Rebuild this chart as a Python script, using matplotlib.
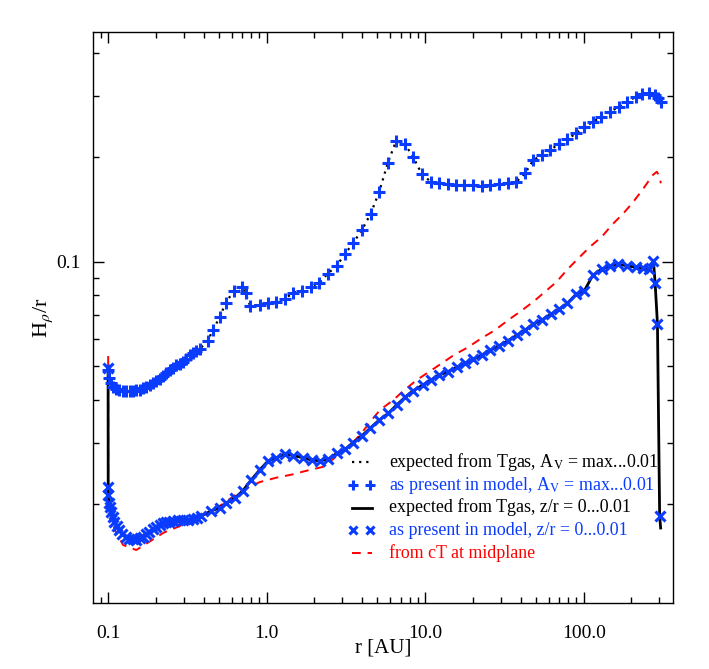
import matplotlib
matplotlib.use("Agg")
import matplotlib.pyplot as plt
from matplotlib.lines import Line2D
from matplotlib.ticker import LogLocator, FixedLocator, FixedFormatter, NullFormatter

plt.rcParams['font.family'] = ['Liberation Serif', 'DejaVu Serif']
plt.rcParams['mathtext.fontset'] = 'stix'

# ---- data: upper curve (A_V = max...0.01) ----
r_av = [0.1000, 0.1019, 0.1038, 0.1069, 0.1117, 0.1178, 0.1236, 0.1297, 0.1369, 0.1430,
        0.150, 0.1583, 0.1653, 0.1728, 0.1823, 0.1912, 0.2006, 0.2117, 0.2211, 0.2310,
        0.2438, 0.2557, 0.2684, 0.2831, 0.2958, 0.3090, 0.3262, 0.3420, 0.3573, 0.3771,
        0.4254, 0.4575, 0.5044, 0.5503, 0.618,
        0.700, 0.7359, 0.7866, 0.902, 1.018, 1.148, 1.297, 1.47, 1.675, 1.893,
        2.145, 2.424, 2.762, 3.116, 3.516, 3.99, 4.529, 5.131, 5.799, 6.54,
        7.42, 8.41, 9.545, 10.83, 12.22, 13.87, 15.65, 17.65, 20.13, 22.74,
        25.65, 29.24, 33.18, 37.43, 42.67, 48.14, 54.39, 61.37, 69.63, 78.9,
        89.5, 101.0, 114.6, 129.3, 146.8, 167.3, 188.8, 213.3, 234.8, 259.9,
        282.4, 296.3, 306.8]
h_av = [0.0487, 0.0461, 0.04467, 0.0436, 0.04292, 0.0426, 0.04250, 0.0424, 0.04235, 0.04250,
        0.0426, 0.04278, 0.0431, 0.04350, 0.0441, 0.04467, 0.0454, 0.04603, 0.0468, 0.04775,
        0.0487, 0.04935, 0.0502, 0.05085, 0.0515, 0.05256, 0.0538, 0.05470, 0.05525, 0.0559,
        0.0592, 0.0635, 0.0691, 0.0759, 0.0823,
        0.0847, 0.0810, 0.0746, 0.0750, 0.0759, 0.0767, 0.0780, 0.0814, 0.0825, 0.0847,
        0.0870, 0.0923, 0.0974, 0.1052, 0.1134, 0.1234, 0.1376, 0.1592, 0.1923, 0.2226,
        0.2190, 0.2001, 0.1787, 0.1702, 0.1690, 0.1679, 0.1664, 0.1664, 0.1664, 0.1657,
        0.1664, 0.1676, 0.1690, 0.1698, 0.1799, 0.1965, 0.2028, 0.2101, 0.2182, 0.2255,
        0.2347, 0.2442, 0.2534, 0.2620, 0.2709, 0.2800, 0.2894, 0.2992, 0.3046, 0.3073,
        0.3027, 0.2961, 0.2894]

# ---- data: lower curve (z/r = 0...0.01) ----
r_zr = [0.09985, 0.1000, 0.1003, 0.1019, 0.1031, 0.1043, 0.1069, 0.1096, 0.1133, 0.1178,
        0.1227, 0.1297, 0.1359, 0.143, 0.1504, 0.1576, 0.1653, 0.1735, 0.1818, 0.1912,
        0.2012, 0.2108, 0.2211, 0.2321, 0.2431, 0.2557, 0.2751, 0.2958, 0.3180, 0.342,
        0.3626, 0.386, 0.4464, 0.5044,
        0.5551, 0.627, 0.7075, 0.798, 0.902, 1.018, 1.148, 1.297, 1.47, 1.70,
        1.921, 2.168, 2.445, 2.762, 3.116, 3.516, 3.972, 4.482, 5.131, 5.848,
        6.607, 7.457, 8.41, 9.643, 10.83, 12.27, 13.87, 15.81, 17.84, 20.13,
        22.74, 25.65, 29.24, 33.18, 37.82, 42.67, 48.14, 54.39, 61.99, 69.94,
        78.9, 89.5, 101.0, 114.1, 130.1, 146.8, 165.6, 187.1, 213.3, 238.3,
        259.9, 275.4, 282.4, 292.0, 301.5, 305.9]
h_zr = [0.04926, 0.02239, 0.02123, 0.02009, 0.01954, 0.0190, 0.01834, 0.01778, 0.01727, 0.01682,
        0.01643, 0.01609, 0.01590, 0.01581, 0.01579, 0.01592, 0.01611, 0.01638, 0.01665, 0.0169,
        0.01716, 0.01739, 0.01757, 0.01771, 0.01780, 0.01789, 0.01795, 0.01798, 0.01802, 0.01806,
        0.01822, 0.01846, 0.01909, 0.01951,
        0.02009, 0.02077, 0.02184, 0.02346, 0.02506, 0.02661, 0.02719, 0.02787, 0.02760, 0.02719,
        0.02678, 0.02666, 0.02691, 0.02800, 0.02875, 0.03004, 0.03142, 0.03306, 0.03493, 0.03652,
        0.03860, 0.04063, 0.04244, 0.04408, 0.04557, 0.04710, 0.04815, 0.04958, 0.05092, 0.05229,
        0.05380, 0.05551, 0.05723, 0.05916, 0.06131, 0.06350, 0.06610, 0.06790, 0.07052, 0.07290,
        0.07586, 0.08053, 0.08249, 0.09137, 0.09526, 0.09719, 0.09829, 0.09738, 0.09634, 0.09572,
        0.09508, 0.1005, 0.08664, 0.0661, 0.01846, 0.01705]
n_zr_model = len(r_zr) - 1  # model points (last value only on expected line)

# ---- data: cT at midplane ----
r_ct = [0.1, 0.1, 0.1101, 0.1242, 0.1504, 0.1845, 0.2244, 0.2791, 0.3522, 0.4379,
        0.5291, 0.6208, 0.750, 0.906, 1.160, 1.443, 1.786, 2.274, 2.828, 3.353,
        3.877, 4.595, 5.184, 6.289, 7.275, 8.837, 10.46, 12.71, 15.42, 18.50,
        22.51, 27.59, 33.46, 39.68, 48.14, 57.05, 67.63, 78.2, 92.6, 109.7,
        130.1, 150.4, 178.1, 206.0, 236.1, 273.1, 289.4, 300.6, 306.8]
h_ct = [0.05343, 0.01973, 0.01682, 0.01523, 0.01473, 0.01563, 0.01654, 0.01722, 0.01809, 0.01903,
        0.02000, 0.02109, 0.02224, 0.02314, 0.02384, 0.02432, 0.02495, 0.02561, 0.02769, 0.02958,
        0.03162, 0.03493, 0.03733, 0.03990, 0.04236, 0.04557, 0.04796, 0.05092, 0.05405, 0.05654,
        0.06002, 0.06350, 0.06790, 0.07173, 0.07667, 0.08193, 0.08756, 0.09463, 0.1023, 0.1105,
        0.1180, 0.1276, 0.1379, 0.1490, 0.1618, 0.1779, 0.1818, 0.1759, 0.1684]

x_ticks = [0.1, 1.0, 10.0, 100.0]
x_ticklabels = ["0.1", "1.0", "10.0", "100.0"]
y_ticks = [0.1]
y_ticklabels = ["0.1"]

labels = ["expected from Tgas, A$_\\mathrm{V}$ = max...0.01",
          "as present in model, A$_\\mathrm{V}$ = max...0.01",
          "expected from Tgas, z/r = 0...0.01",
          "as present in model, z/r = 0...0.01",
          "from cT at midplane"]

BLUE = "#0a3cff"
RED = "#ff0000"

W, H = 709, 669
AX_L, AX_R, AX_T, AX_B = 93, 673, 32, 603

fig = plt.figure(figsize=(W / 100, H / 100), dpi=100)
ax = fig.add_axes([AX_L / W, 1 - AX_B / H, (AX_R - AX_L) / W, (AX_B - AX_T) / H])
ax.set_xscale('log')
ax.set_yscale('log')

ax.plot(r_ct, h_ct, color=RED, lw=1.4, dashes=(4.5, 3.5), zorder=2)
ax.plot(r_av, h_av, color='black', lw=1.6, dashes=(1.0, 2.2), zorder=3)
ax.plot(r_av, h_av, ls='none', marker='+', ms=8.5, mew=2.2, color=BLUE, zorder=4)
ax.plot(r_zr, h_zr, color='black', lw=2.0, zorder=3)
ax.plot(r_zr[:n_zr_model], h_zr[:n_zr_model], ls='none', marker='x', ms=6.5, mew=2.2,
        color=BLUE, zorder=4)

ax.set_xlim(0.0802, 366)
ax.set_ylim(0.01036, 0.46)

ax.xaxis.set_major_locator(FixedLocator(x_ticks))
ax.xaxis.set_major_formatter(FixedFormatter(x_ticklabels))
ax.xaxis.set_minor_locator(LogLocator(base=10, subs=range(2, 10)))
ax.xaxis.set_minor_formatter(NullFormatter())
ax.yaxis.set_major_locator(FixedLocator(y_ticks))
ax.yaxis.set_major_formatter(FixedFormatter(y_ticklabels))
ax.yaxis.set_minor_locator(LogLocator(base=10, subs=range(2, 10)))
ax.yaxis.set_minor_formatter(NullFormatter())

ax.tick_params(which='both', direction='in', top=True, right=True, labelsize=14, width=1.0)
ax.tick_params(which='major', length=8)
ax.tick_params(which='minor', length=4.5)
ax.tick_params(axis='x', which='major', pad=16)
ax.tick_params(axis='y', which='major', pad=9)
for s in ax.spines.values():
    s.set_linewidth(1.0)

ax.set_xlabel("r [AU]", fontsize=15, labelpad=-3)
ax.set_ylabel("H$_\\rho$/r", fontsize=16, labelpad=1)

# ---- legend, drawn row by row for even spacing ----
def axx(px):
    return (px - AX_L) / (AX_R - AX_L)

def axy(py):
    return 1 - (py - AX_T) / (AX_B - AX_T)

row_px = [462, 485, 507.5, 530, 553]
text_colors = ['black', BLUE, 'black', BLUE, RED]
h_x0, h_x1, txt_x = 352, 372, 389
styles = [
    dict(color='black', lw=1.6, dashes=(1.0, 2.2)),
    dict(color=BLUE, ls='none', marker='+', ms=7, mew=2.2),
    dict(color='black', lw=2.0),
    dict(color=BLUE, ls='none', marker='x', ms=5.5, mew=2.2),
    dict(color=RED, lw=1.4, dashes=(4.5, 3.5)),
]
for i, (py, lab, col, st) in enumerate(zip(row_px, labels, text_colors, styles)):
    if st.get('ls') == 'none':
        xs = [axx(h_x0 + 1), axx(h_x1 - 2)]
    else:
        xs = [axx(h_x0), axx(h_x1)]
    ax.add_line(Line2D(xs, [axy(py), axy(py)], transform=ax.transAxes,
                       clip_on=False, zorder=5, **st))
    ax.text(axx(txt_x), axy(py + 5), lab, transform=ax.transAxes, color=col,
            fontsize=12.9, ha='left', va='baseline', zorder=5)

fig.savefig("out.png", dpi=100)
